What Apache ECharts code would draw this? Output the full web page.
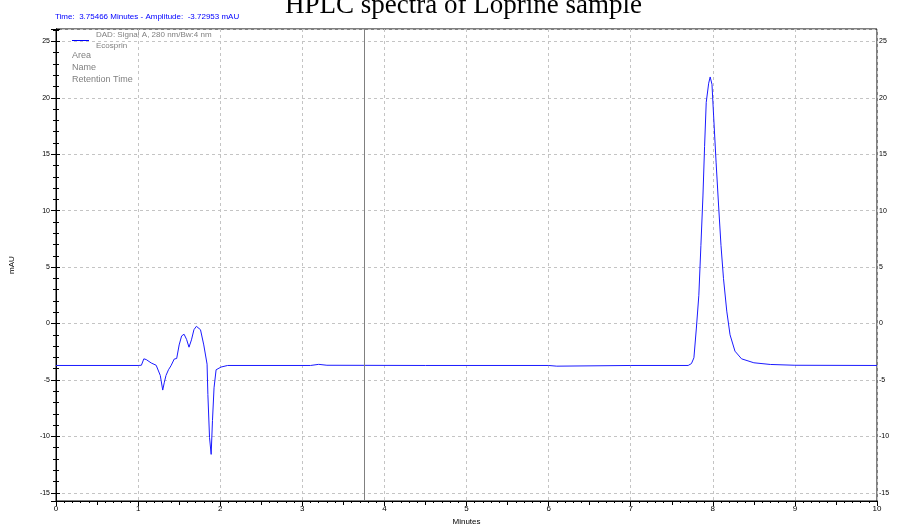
<!DOCTYPE html>
<html lang="en">
<head>
    <meta charset="UTF-8">
    <title>HPLC spectra of Loprine sample</title>
    <script src="https://cdn.jsdelivr.net/npm/echarts@6/dist/echarts.min.js"></script>
    <style>
        html, body { margin: 0; padding: 0; background: #fff; }
    </style>
</head>
<body>
<div id="main" style="width: 914px;height: 531px"></div>
</body>

<script>
    // retention time (minutes) and signal (mAU)
    var times = [0, 1.0, 1.04, 1.07, 1.1, 1.16, 1.22, 1.27, 1.30, 1.32, 1.34, 1.37, 1.40, 1.44, 1.47,
        1.50, 1.53, 1.56, 1.59, 1.62, 1.65, 1.68, 1.71, 1.73, 1.76, 1.80, 1.84, 1.85, 1.87, 1.89,
        1.906, 1.925, 1.95, 2.01, 2.09, 3.1, 3.2, 3.3, 4.5, 6.0, 6.1, 7.0, 7.70, 7.74, 7.77, 7.80,
        7.83, 7.855, 7.88, 7.90, 7.92, 7.95, 7.968, 7.99, 8.01, 8.04, 8.07, 8.10, 8.13, 8.17, 8.21,
        8.27, 8.35, 8.50, 8.70, 9.0, 10];
    var mAU = [-3.72, -3.72, -3.7, -3.13, -3.2, -3.5, -3.7, -4.6, -5.9, -5.2, -4.6, -4.1, -3.75, -3.15, -3.1,
        -1.9, -1.1, -0.95, -1.4, -2.1, -1.45, -0.55, -0.25, -0.2, -0.55, -1.9, -3.6, -6.3, -10.1, -11.6,
        -8.6, -5.7, -4.1, -3.86, -3.72, -3.72, -3.62, -3.7, -3.72, -3.72, -3.78, -3.72, -3.72, -3.55, -3.04, -0.4,
        2.5, 6.9, 11.3, 15.7, 19.6, 21.3, 21.85, 21.2, 18.4, 14.3, 10.5, 6.9, 4.0, 1.1, -1.0,
        -2.45, -3.13, -3.48, -3.63, -3.7, -3.72];

    var cursorTime = 3.75466;
    var cursorAmp = -3.72953;
    var legendLines = ['Area', 'Name', 'Retention Time'];

    var points = [];
    for (var i = 0; i < times.length; i++) {
        points.push([times[i], mAU[i]]);
    }

    var myChart = echarts.init(document.getElementById('main'));

    var gridDash = {show: true, lineStyle: {color: '#c4c4c4', type: [3, 3], width: 1}};
    var labelFont = {color: '#000', fontSize: 7, fontFamily: 'Liberation Sans'};

    var graphics = [{
        type: 'text', x: 463.5, y: 19,
        style: {text: 'HPLC spectra of Loprine sample', fill: '#000', font: '27px "Liberation Serif"', align: 'center', verticalAlign: 'bottom'}
    }, {
        type: 'text', x: 55, y: 17,
        style: {text: 'Time:  ' + cursorTime + ' Minutes - Amplitude:  ' + cursorAmp + ' mAU', fill: '#0000ff', font: '8px "Liberation Sans"', verticalAlign: 'middle'}
    }, {
        type: 'line', shape: {x1: 72, y1: 40.5, x2: 89, y2: 40.5},
        style: {stroke: '#0000ff', lineWidth: 1}
    }, {
        type: 'text', x: 96, y: 35,
        style: {text: 'DAD: Signal A, 280 nm/Bw:4 nm', fill: '#808080', font: '8px "Liberation Sans"', verticalAlign: 'middle'}
    }, {
        type: 'text', x: 96, y: 45.5,
        style: {text: 'Ecosprin', fill: '#808080', font: '8px "Liberation Sans"', verticalAlign: 'middle'}
    }];
    for (var k = 0; k < legendLines.length; k++) {
        graphics.push({
            type: 'text', x: 72, y: 56 + k * 12,
            style: {text: legendLines[k], fill: '#808080', font: '9px "Liberation Sans"', verticalAlign: 'middle'}
        });
    }

    var option = {
        animation: false,
        graphic: graphics,
        grid: {
            left: 55,
            right: 37,
            top: 29,
            bottom: 27,
            show: true,
            borderColor: '#000',
            borderWidth: 1
        },
        xAxis: [{
            type: 'value',
            min: 0,
            max: 10,
            interval: 1,
            name: 'Minutes',
            nameLocation: 'middle',
            nameGap: 17,
            nameTextStyle: {color: '#000', fontSize: 8, fontFamily: 'Liberation Sans'},
            axisLine: {onZero: false, lineStyle: {color: '#000'}},
            axisTick: {length: 5, lineStyle: {color: '#000'}},
            minorTick: {show: true, splitNumber: 10, length: 2, lineStyle: {color: '#000'}},
            axisLabel: {margin: 4, color: '#000', fontSize: 8, fontFamily: 'Liberation Sans'},
            splitLine: gridDash
        }, {
            type: 'value',
            position: 'bottom',
            min: 0,
            max: 10,
            interval: 0.5,
            axisLine: {show: false, onZero: false},
            axisTick: {length: 4, lineStyle: {color: '#000'}},
            axisLabel: {show: false},
            splitLine: {show: false}
        }],
        yAxis: [{
            type: 'value',
            position: 'left',
            min: -15.73,
            max: 26.1,
            splitNumber: 8,
            name: 'mAU',
            nameLocation: 'middle',
            nameGap: 40,
            nameTextStyle: {color: '#000', fontSize: 8, fontFamily: 'Liberation Sans'},
            axisLine: {show: true, lineStyle: {color: '#000'}},
            axisTick: {length: 5, lineStyle: {color: '#000'}},
            minorTick: {show: true, splitNumber: 5, length: 3, lineStyle: {color: '#000'}},
            axisLabel: Object.assign({margin: 6, showMinLabel: false, showMaxLabel: false}, labelFont),
            splitLine: gridDash
        }, {
            type: 'value',
            position: 'right',
            min: -15.73,
            max: 26.1,
            splitNumber: 8,
            axisLine: {show: true, lineStyle: {color: '#000'}},
            axisTick: {length: 4, lineStyle: {color: '#000'}},
            minorTick: {show: true, splitNumber: 5, length: 3, lineStyle: {color: '#000'}},
            axisLabel: Object.assign({margin: 2, showMinLabel: false, showMaxLabel: false}, labelFont),
            splitLine: {show: false}
        }],
        series: [{
            name: 'DAD: Signal A, 280 nm/Bw:4 nm',
            type: 'line',
            data: points,
            showSymbol: false,
            lineStyle: {color: '#1a1aff', width: 1},
            markLine: {
                silent: true,
                symbol: ['none', 'none'],
                label: {show: false},
                lineStyle: {color: '#808080', type: 'solid', width: 1},
                data: [{xAxis: cursorTime}]
            }
        }]
    };

    myChart.setOption(option);
</script>

</html>
